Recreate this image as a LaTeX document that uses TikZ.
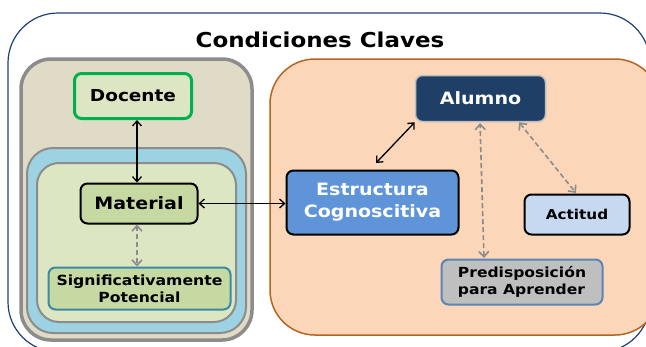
\documentclass[tikz,border=0pt]{standalone}
\usepackage{fontspec}
\setmainfont{DejaVu Sans}[FakeStretch=1.12]
\usetikzlibrary{arrows.meta}
\definecolor{navy}{HTML}{1F3F7A}
\definecolor{beige}{HTML}{E0DBC6}
\definecolor{lblue}{HTML}{9DD2E2}
\definecolor{lgreen}{HTML}{DCE6C2}
\definecolor{mgreen}{HTML}{C7D9A3}
\definecolor{orfill}{HTML}{FBD6B8}
\definecolor{orline}{HTML}{B5651D}
\definecolor{alfill}{HTML}{1F3F66}
\definecolor{esfill}{HTML}{5F95D8}
\definecolor{acfill}{HTML}{C6D9F1}
\definecolor{prline}{HTML}{5A85B8}
\definecolor{sgline}{HTML}{3A8AA5}
\definecolor{dcline}{HTML}{00B050}
\definecolor{grayline}{HTML}{8C8C8C}
\tikzset{
  box/.style={rounded corners=7pt, align=center, font=\bfseries, inner sep=0pt},
  solidarrow/.style={line width=1.3pt, {Straight Barb[length=5pt,width=9pt]}-{Straight Barb[length=5pt,width=9pt]}},
  dasharrow/.style={line width=1.6pt, draw=grayline, dash pattern=on 5pt off 3pt, {Straight Barb[length=5.5pt,width=10pt]}-{Straight Barb[length=5.5pt,width=10pt]}}
}
\begin{document}
\begin{tikzpicture}[x=1pt,y=-1pt]
\useasboundingbox (0,0) rectangle (646,346);
\clip (0,0) rectangle (646,346);
% outer frame
\draw[navy, line width=1.2pt, fill=white, rounded corners=50pt] (8,13) rectangle (650,352);
\node[font=\bfseries\fontsize{20.5}{24}\selectfont] (title) at (320,40) {Condiciones Claves};
% left containers
\draw[grayline, line width=3.5pt, fill=beige, rounded corners=30pt] (21,59) rectangle (252,340);
\draw[grayline, line width=2pt, fill=lblue, rounded corners=26pt] (27,148) rectangle (246,333);
\draw[grayline, line width=2pt, fill=lgreen, rounded corners=22pt] (37,163) rectangle (236,322);
% right container
\draw[orline, line width=1.5pt, fill=orfill, rounded corners=45pt] (270,59) rectangle (660,335);
% nodes
\node[box, draw=dcline, line width=3pt, fill=lgreen, minimum width=117pt, minimum height=45pt, font=\bfseries\fontsize{16.5}{19}\selectfont] (doc) at (133,96) {Docente};
\node[box, draw=black, line width=2pt, fill=mgreen, minimum width=117pt, minimum height=40pt, font=\bfseries\fontsize{17}{20}\selectfont] (mat) at (139,203.5) {Material};
\node[box, draw=sgline, line width=2pt, fill=mgreen, minimum width=182pt, minimum height=42pt, font=\bfseries\fontsize{14}{17}\selectfont] (sig) at (139.5,288.5) {Significativamente\\Potencial};
\node[box, draw=black!25, line width=1.5pt, fill=alfill, text=white, minimum width=130pt, minimum height=46pt, font=\bfseries\fontsize{17}{20}\selectfont] (alu) at (480.5,98.5) {Alumno};
\node[box, draw=black, line width=2pt, fill=esfill, text=white, minimum width=172pt, minimum height=64pt, font=\bfseries\fontsize{17}{22}\selectfont] (est) at (372.5,202.5) {Estructura\\Cognoscitiva};
\node[box, draw=black, line width=2pt, fill=acfill, minimum width=105pt, minimum height=40pt, font=\bfseries\fontsize{13.6}{16}\selectfont] (act) at (577,214.5) {Actitud};
\node[box, draw=prline, line width=2pt, fill=black!25, minimum width=161pt, minimum height=45pt, align=left, font=\bfseries\fontsize{13.9}{17}\selectfont] (pre) at (522,282) {Predisposición\\para Aprender};
% anchor points
\coordinate (docb) at (doc.south -| 137,0);
\coordinate (matt) at (mat.north -| 137,0);
\coordinate (matb) at (mat.south -| 137,0);
\coordinate (sigt) at (sig.north -| 137,0);
\coordinate (estn) at (376,163);
\coordinate (preN) at (484,258);
\coordinate (aluS) at (480,123);
\coordinate (aluR) at (alu.south -| 519,0);
\coordinate (actN) at (576,193);
% connectors
\draw[solidarrow] (docb) -- (matt);
\draw[dasharrow] (matb) -- (sigt);
\draw[solidarrow] (mat.east) -- (est.west |- mat.east);
\draw[solidarrow] (estn) -- (alu.south west);
\draw[dasharrow] (preN) -- (aluS);
\draw[dasharrow] (aluR) -- (actN);
\end{tikzpicture}
\end{document}
